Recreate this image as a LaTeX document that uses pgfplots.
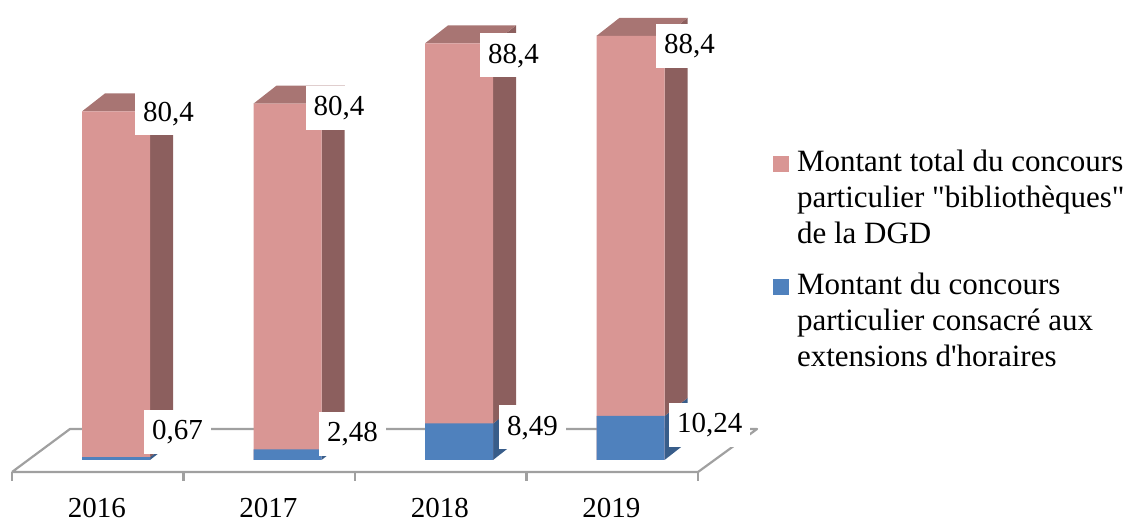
\documentclass[border=0pt]{standalone}
\usepackage{pgfplots}
\usepackage{pgfplotstable}
\pgfplotsset{compat=1.18}
\usepackage{fontspec}
\setmainfont{Liberation Serif}[Ligatures=TeXOff]
\definecolor{pinkfront}{HTML}{D99694}
\definecolor{pinkside}{HTML}{8C5F5E}
\definecolor{pinktop}{HTML}{A87573}
\definecolor{bluefront}{HTML}{4F81BD}
\definecolor{blueside}{HTML}{385D8A}
\definecolor{floorgray}{HTML}{A0A0A0}

% blue = extensions d'horaires, pink = total "bibliothèques"
% tpx,tpy,bpx,bpy = label offsets (bp)
\pgfplotstableread{
x blue pink tpx tpy bpx bpy
0 0.67 80.4 19 -2 28 25.6
1 2.48 80.4 18 -4 31.5 15.8
2 8.49 88.4 21 -12 40 -4
3 10.24 88.4 25.5 -10 38.5 -9
}\bardata

\def\ddx{0.1341}
\def\ddy{4.186}
\def\hw{0.19825}

\begin{document}
\begin{tikzpicture}
\path[use as bounding box] (0,0) rectangle (1143bp,522bp);
\begin{axis}[
  at={(0,0)}, anchor=south west,
  scale only axis, width=1143bp, height=522bp,
  xmin=-0.6764, xmax=5.9883, ymin=-14.419, ymax=106.977,
  hide axis, clip=false,
  legend cell align=left,
  legend style={draw=none, fill=none, inner sep=0pt, outer sep=0pt,
    at={(0.6763,0.712)}, anchor=north west,
    font=\fontsize{31bp}{36bp}\selectfont,
    row sep=100bp, column sep=8bp,
    cells={anchor=base west}, nodes={inner sep=0pt}},
  /pgf/number format/.cd, use comma, assume math mode=true,
]
% floor
\addplot[forget plot, draw=floorgray, line width=2.2bp, mark=none, line join=round]
  coordinates {(-0.6064,-2.79) (3.3936,-2.79) (3.7376,7.21) (-0.2682,7.21) (-0.6064,-2.79)};
\pgfplotsinvokeforeach{-0.6064,0.3936,1.3936,2.3936,3.3936}{
  \addplot[forget plot, draw=floorgray, line width=2.2bp, mark=none]
    coordinates {(#1,-2.79) (#1,-4.88)};
}
% 3D faces
\pgfplotsinvokeforeach{0,1,2,3}{
  \pgfplotstablegetelem{#1}{blue}\of\bardata \let\vb\pgfplotsretval
  \pgfplotstablegetelem{#1}{pink}\of\bardata \let\vp\pgfplotsretval
  \pgfmathsetmacro\xl{#1-\hw}
  \pgfmathsetmacro\xr{#1+\hw}
  \pgfmathsetmacro\xlb{#1-\hw+\ddx}
  \pgfmathsetmacro\xrb{#1+\hw+\ddx}
  \pgfmathsetmacro\yt{\vb+\vp}
  \pgfmathsetmacro\ytb{\vb+\vp+\ddy}
  \pgfmathsetmacro\ybb{\vb+\ddy}
  \edef\doit{%
    \noexpand\addplot[forget plot, draw=none, fill=blueside, mark=none] coordinates {(\xr,0) (\xrb,\ddy) (\xrb,\ybb) (\xr,\vb)};
    \noexpand\addplot[forget plot, draw=none, fill=pinkside, mark=none] coordinates {(\xr,\vb) (\xrb,\ybb) (\xrb,\ytb) (\xr,\yt)};
    \noexpand\addplot[forget plot, draw=none, fill=pinktop, mark=none] coordinates {(\xl,\yt) (\xlb,\ytb) (\xrb,\ytb) (\xr,\yt)};
  }\doit
}
% front faces
\addplot[ybar, bar width=0.3965, bar shift=0pt, fill=pinkfront, draw=none,
  point meta=explicit,
  visualization depends on={\thisrow{tpx} \as \lpx},
  visualization depends on={\thisrow{tpy} \as \lpy},
  nodes near coords,
  every node near coord/.append style={anchor=west, xshift=\lpx bp, yshift=\lpy bp,
    fill=white, inner xsep=8bp, inner ysep=9bp, text height=21bp, text depth=5bp,
    font=\fontsize{29bp}{35bp}\selectfont, text=black},
  legend image code/.code={\fill[pinkfront] (0bp,0bp) rectangle (16bp,16bp);}]
  table[x=x, y expr=\thisrow{blue}+\thisrow{pink}, meta=pink] {\bardata};
\addlegendentry{\parbox[t]{345bp}{\raggedright Montant total du concours\\particulier "bibliothèques"\\de la DGD}}
\addplot[ybar, bar width=0.3965, bar shift=0pt, fill=bluefront, draw=none,
  point meta=explicit,
  visualization depends on={\thisrow{bpx} \as \lpx},
  visualization depends on={\thisrow{bpy} \as \lpy},
  nodes near coords,
  every node near coord/.append style={anchor=west, xshift=\lpx bp, yshift=\lpy bp,
    fill=white, inner xsep=8bp, inner ysep=9bp, text height=21bp, text depth=5bp,
    font=\fontsize{29bp}{35bp}\selectfont, text=black},
  legend image code/.code={\fill[bluefront] (0bp,0bp) rectangle (16bp,16bp);}]
  table[x=x, y=blue, meta=blue] {\bardata};
\addlegendentry{\parbox[t]{345bp}{\raggedright Montant du concours\\particulier consacré aux\\extensions d'horaires}}
% category labels
\node[anchor=base, inner sep=0pt, font=\fontsize{29bp}{35bp}\selectfont] at (axis cs:-0.111,-13.4) {2016};
\node[anchor=base, inner sep=0pt, font=\fontsize{29bp}{35bp}\selectfont] at (axis cs:0.889,-13.4) {2017};
\node[anchor=base, inner sep=0pt, font=\fontsize{29bp}{35bp}\selectfont] at (axis cs:1.889,-13.4) {2018};
\node[anchor=base, inner sep=0pt, font=\fontsize{29bp}{35bp}\selectfont] at (axis cs:2.889,-13.4) {2019};
\end{axis}
\end{tikzpicture}
\end{document}
